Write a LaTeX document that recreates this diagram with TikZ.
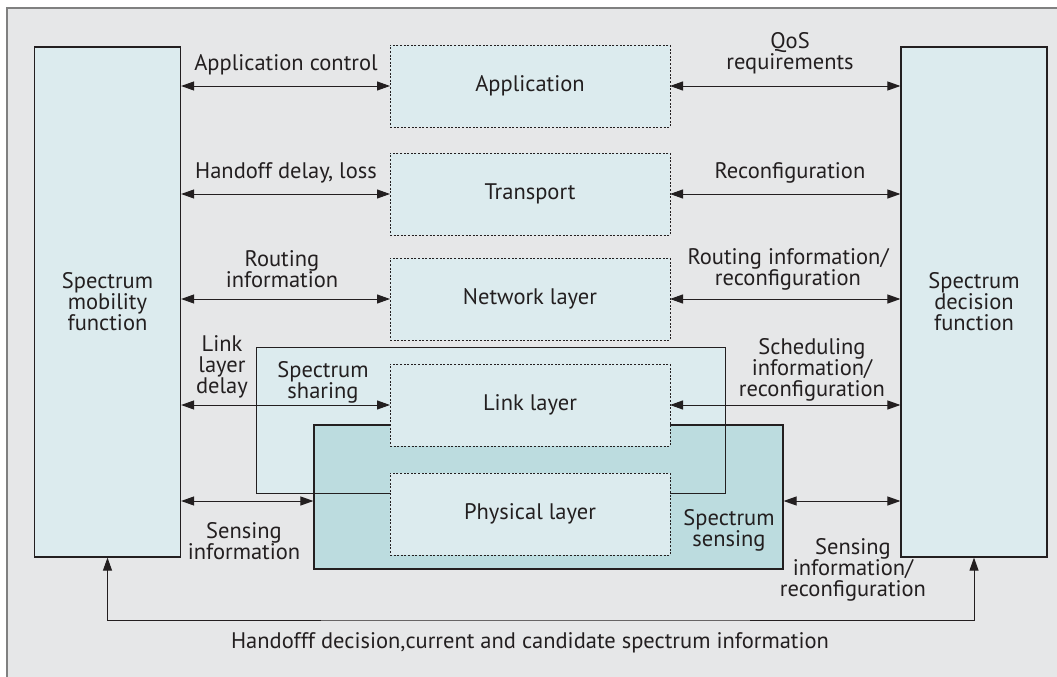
\documentclass[tikz,border=0pt]{standalone}
\usepackage{fontspec}
\setmainfont{PT Sans}
\usetikzlibrary{arrows.meta,positioning}
\definecolor{ink}{HTML}{231F20}
\definecolor{framegrey}{HTML}{808080}
\definecolor{bggrey}{HTML}{E6E7E8}
\definecolor{boxblue}{HTML}{DCEBEE}
\definecolor{sensblue}{HTML}{BCDCDF}

\begin{document}
\begin{tikzpicture}[x=1pt,y=-1pt,
    every node/.style={font=\fontsize{22.5pt}{21pt}\selectfont, text=ink, align=center},
    func/.style={draw=ink, line width=1.2pt, fill=boxblue, minimum width=146pt, minimum height=510pt, inner sep=0pt},
    layer/.style={draw=ink, line width=0.8pt, dash pattern=on 2pt off 1.6pt, fill=boxblue, minimum width=280pt, minimum height=82pt, inner sep=0pt, outer sep=0pt},
    link/.style={{Triangle[length=13pt,width=9pt]}-{Triangle[length=13pt,width=9pt]}, draw=ink, line width=1pt}]
    \useasboundingbox (0,0) rectangle (1057,677);
    \draw[framegrey, line width=2.5pt, fill=bggrey] (7,8) rectangle (1066,686);
    % function blocks
    \node[func] (mob) at (107.5,302) {Spectrum\\mobility\\function};
    \node[func] (dec) at (974,302) {Spectrum\\decision\\function};
    % sharing and sensing
    \node[fill=boxblue, minimum width=468pt, minimum height=145pt, inner sep=0pt] (share) at (491,420.5) {};
    \node[draw=ink, line width=1.2pt, fill=sensblue, minimum width=469pt, minimum height=144pt, inner sep=0pt] (sens) at (548.5,497) {};
    \draw[ink, line width=1.2pt] (share.north west) rectangle (share.south east);
    % protocol stack
    \node[layer] (app) at (530,86) {Application};
    \node[layer, below=26pt of app] (trans) {Transport};
    \node[layer, below=23pt of trans] (net) {Network layer};
    \node[layer, below=24pt of net] (link) {Link layer};
    \node[layer, below=27pt of link] (phy) {Physical layer};
    \coordinate (sensin) at ([yshift=-4pt]sens.west);
    \coordinate (sensout) at ([yshift=-4pt]sens.east);
    \coordinate (loop) at (530,620);
    \path[every edge/.style={link}]
        (app.west -| mob.east) edge (app.west)
        (trans.west -| mob.east) edge (trans.west)
        (net.west -| mob.east) edge (net.west)
        (link.west -| mob.east) edge (link.west)
        (sensin -| mob.east) edge (sensin)
        (app.east) edge (app.east -| dec.west)
        (trans.east) edge (trans.east -| dec.west)
        (net.east) edge (net.east -| dec.west)
        (link.east) edge (link.east -| dec.west)
        (sensout) edge (sensout -| dec.west);
    \draw[link] (mob.south) |- (loop) -| (dec.south);
    % labels
    \node (appctl) at (286,65) {Application control};
    \node (qos) at (790,53) {QoS\\requirements};
    \node (hdl) at (286,173) {Handoff delay, loss};
    \node (reconf) at (790,173) {Reconfiguration};
    \node (rtinfo) at (282,269) {Routing\\information};
    \node (rtreconf) at (788,269) {Routing information/\\reconfiguration};
    \node (lldelay) at (222,367) {Link\\layer\\delay};
    \node (sharelbl) at (323,382) {Spectrum\\sharing};
    \node (sched) at (812,370) {Scheduling\\information/\\reconfiguration};
    \node (sensinfo) at (244,541) {Sensing\\information};
    \node (senslbl) at (729,530) {Spectrum\\sensing};
    \node (sensreconf) at (853,570) {Sensing\\information/\\reconfiguration};
    \node (handoff) at (530,643) {Handofff decision,current and candidate spectrum information};
\end{tikzpicture}
\end{document}
